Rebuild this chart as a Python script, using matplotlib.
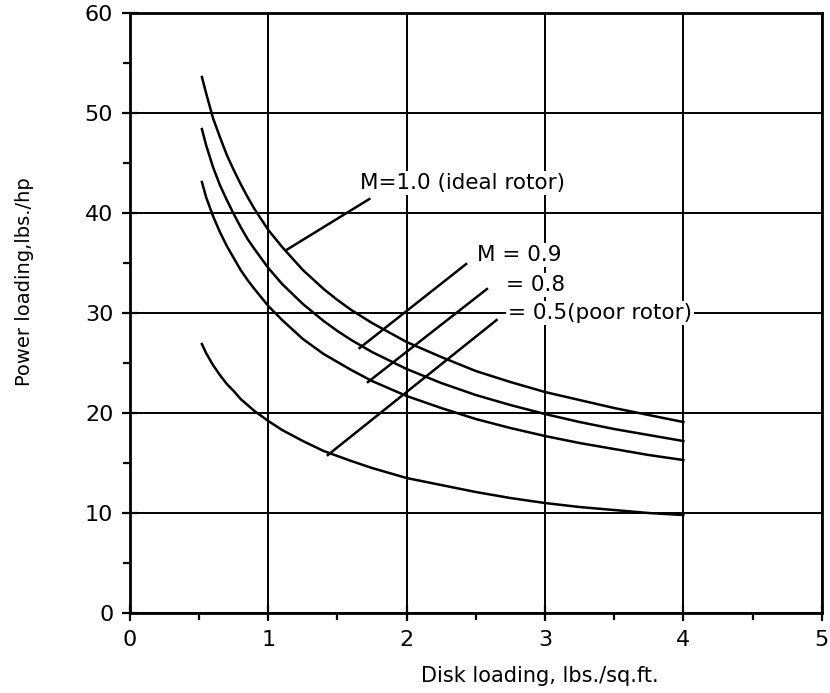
import matplotlib
matplotlib.use("Agg")
import matplotlib.pyplot as plt
from matplotlib.ticker import MultipleLocator

disk_loading = [0.52, 0.55, 0.6, 0.65, 0.7, 0.75, 0.8, 0.85, 0.9, 1.0, 1.1, 1.25,
                1.4, 1.5, 1.6, 1.75, 2.0, 2.25, 2.5, 2.75, 3.0, 3.25, 3.5, 3.75, 4.0]

# power loading (lbs/hp) for each figure of merit M
pl_m10 = [53.6, 52.0, 49.5, 47.6, 45.8, 44.3, 42.9, 41.6, 40.4, 38.3, 36.6, 34.3,
          32.4, 31.3, 30.3, 29.0, 27.1, 25.6, 24.2, 23.1, 22.1, 21.3, 20.5, 19.8, 19.1]
pl_m09 = [48.4, 46.8, 44.6, 42.8, 41.3, 39.9, 38.6, 37.4, 36.4, 34.5, 32.9, 30.9,
          29.2, 28.2, 27.3, 26.1, 24.4, 23.0, 21.8, 20.8, 19.9, 19.1, 18.4, 17.8, 17.2]
pl_m08 = [43.1, 41.6, 39.7, 38.1, 36.7, 35.5, 34.3, 33.3, 32.4, 30.7, 29.3, 27.4,
          25.9, 25.1, 24.3, 23.2, 21.7, 20.5, 19.4, 18.5, 17.7, 17.0, 16.4, 15.8, 15.3]
pl_m05 = [26.9, 26.0, 24.8, 23.8, 22.9, 22.2, 21.4, 20.8, 20.2, 19.2, 18.3, 17.2,
          16.2, 15.7, 15.2, 14.5, 13.5, 12.8, 12.1, 11.5, 11.0, 10.6, 10.3, 10.0, 9.8]

# labels: text, text position, leader line start (on curve) and end
labels = ["M=1.0 (ideal rotor)", "M = 0.9", "= 0.8", "= 0.5(poor rotor)"]
label_xy = [(1.66, 43.0), (2.51, 35.8), (2.72, 32.8), (2.73, 30.0)]
leader_from = [(1.13, 36.3), (1.66, 26.5), (1.72, 23.1), (1.43, 15.8)]
leader_to = [(1.73, 41.4), (2.43, 34.9), (2.58, 32.4), (2.65, 29.3)]

fig = plt.figure(figsize=(8.3, 6.93), dpi=100)
ax = fig.add_axes([0.1566, 0.1154, 0.8334, 0.8658])

for pl in (pl_m10, pl_m09, pl_m08, pl_m05):
    ax.plot(disk_loading, pl, color="black", linewidth=1.8, zorder=3)

for (x0, y0), (x1, y1) in zip(leader_from, leader_to):
    ax.plot([x0, x1], [y0, y1], color="black", linewidth=1.8, zorder=3)

for txt, (tx, ty) in zip(labels, label_xy):
    ax.text(tx, ty, txt, fontsize=15.5, ha="left", va="center", zorder=4,
            bbox=dict(facecolor="white", edgecolor="none", pad=1.5))

ax.set_xlim(0, 5)
ax.set_ylim(0, 60)
ax.xaxis.set_major_locator(MultipleLocator(1))
ax.xaxis.set_minor_locator(MultipleLocator(0.5))
ax.yaxis.set_major_locator(MultipleLocator(10))
ax.yaxis.set_minor_locator(MultipleLocator(5))
ax.grid(True, which="major", color="black", linewidth=1.4)
ax.set_axisbelow(True)

ax.tick_params(which="major", direction="inout", length=12, width=1.6,
               labelsize=16, pad=6)
ax.tick_params(which="minor", direction="out", length=5, width=1.6)
ax.tick_params(top=False, right=False)
for sp in ax.spines.values():
    sp.set_linewidth(2.0)

fig.text(540 / 830, 1 - 676 / 693, "Disk loading, lbs./sq.ft.",
         fontsize=15, ha="center", va="center")
fig.text(24 / 830, 1 - 282 / 693, "Power loading,lbs./hp",
         fontsize=14, ha="center", va="center", rotation=90)

fig.savefig("out.png", dpi=100)
